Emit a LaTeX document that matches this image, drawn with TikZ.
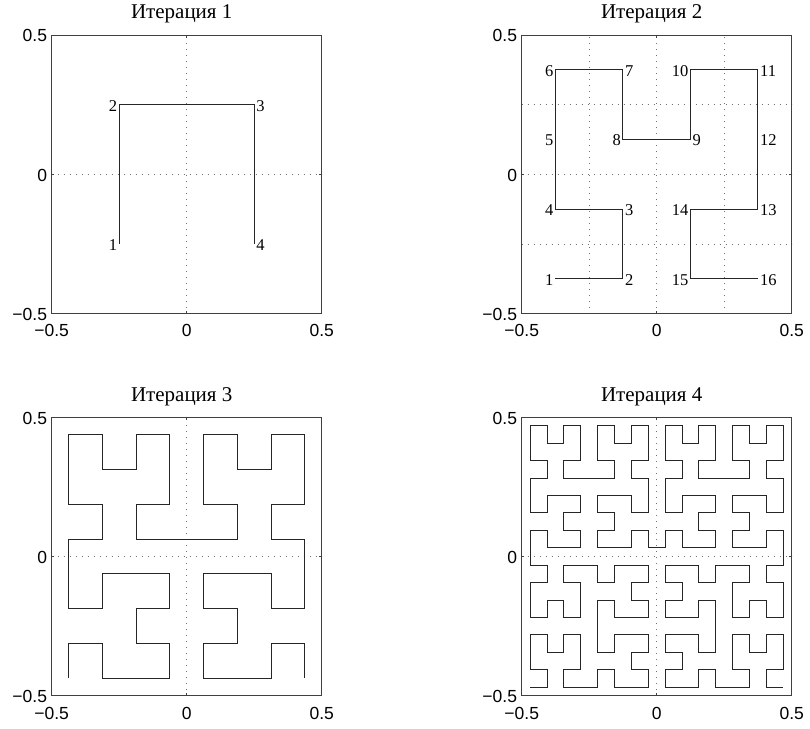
\documentclass[tikz,border=0pt]{standalone}
\usepackage{fontspec}
\setmainfont{Liberation Serif}
\newfontfamily\tickfont{Liberation Sans}
\newcount\hilx \newcount\hily \newcount\hildx \newcount\hildy \newcount\hiltmp
\def\hilLeft{\hiltmp=\hildx \hildx=-\hildy \hildy=\hiltmp\relax}
\def\hilRight{\hiltmp=\hildx \hildx=\hildy \hildy=-\hiltmp\relax}
\def\hilFwd{\advance\hilx by\hildx \advance\hily by\hildy
  \pgfpathlineto{\pgfpointxy{\the\hilx}{\the\hily}}}
\def\hilA#1{\ifnum#1>0 \expandafter\hilAx\expandafter{\the\numexpr#1-1\relax}\fi}
\def\hilB#1{\ifnum#1>0 \expandafter\hilBx\expandafter{\the\numexpr#1-1\relax}\fi}
\def\hilAx#1{\hilLeft\hilB{#1}\hilFwd\hilRight\hilA{#1}\hilFwd\hilA{#1}\hilRight\hilFwd\hilB{#1}\hilLeft}
\def\hilBx#1{\hilRight\hilA{#1}\hilFwd\hilLeft\hilB{#1}\hilFwd\hilB{#1}\hilLeft\hilFwd\hilA{#1}\hilRight}
\newcommand\hilcurve[1]{%
  \hilx=0 \hily=0 \hildx=1 \hildy=0
  \pgfsetlinewidth{1pt}%
  \pgfsetstrokecolor{black!85}%
  \pgfpathmoveto{\pgfpointxy{0}{0}}%
  \hilA{#1}%
  \pgfusepath{stroke}}
\tikzset{
  gridl/.style={draw=black!55, line width=0.7pt, dash pattern=on 0.7pt off 5.3pt},
  boxl/.style={draw=black!75, line width=0.9pt},
  ytick/.style={font=\tickfont\fontsize{17.5}{17.5}\selectfont, anchor=base east, inner sep=0pt, xshift=-4.5pt, yshift=-7pt},
  xtick/.style={font=\tickfont\fontsize{17.5}{17.5}\selectfont, anchor=base, inner sep=0pt, yshift=-23.5pt},
  ttl/.style={font=\fontsize{21}{21}\selectfont, anchor=base, inner sep=0pt, xshift=-5pt, yshift=16pt},
  lblL/.style={font=\fontsize{16.5}{16.5}\selectfont, anchor=base east, inner sep=0pt, xshift=-2pt, yshift=-6.5pt},
  lblR/.style={font=\fontsize{16.5}{16.5}\selectfont, anchor=base west, inner sep=0pt, xshift=2pt, yshift=-6.5pt}
}
\newcommand\panel[5]{% #1 cx, #2 cy, #3 order, #4 N, #5 extra
\begin{scope}[shift={(#1pt,#2pt)}, x=270pt, y=278.5pt]
  \draw[gridl] (0,-0.5) -- (0,0.5);
  \draw[gridl] (-0.5,0) -- (0.5,0);
  #5
  \begin{scope}[shift={(-0.5+0.5/#4,-0.5+0.5/#4)}, x=270pt/#4, y=278.5pt/#4]
    \hilcurve{#3}
  \end{scope}
  \draw[boxl] (-0.5,-0.5) rectangle (0.5,0.5);
  \draw[boxl] (0,-0.5) -- ++(0,2.7pt);
  \draw[boxl] (0,0.5) -- ++(0,-2.7pt);
  \draw[boxl] (-0.5,0) -- ++(2.7pt,0);
  \draw[boxl] (0.5,0) -- ++(-2.7pt,0);
  \node[ytick] (p#3ya) at (-0.5,0.5) {0.5};
  \node[ytick] (p#3yb) at (-0.5,0) {0};
  \node[ytick] (p#3yc) at (-0.5,-0.5) {−0.5};
  \node[xtick] (p#3xa) at (-0.5,-0.5) {−0.5};
  \node[xtick] (p#3xb) at (0,-0.5) {0};
  \node[xtick] (p#3xc) at (0.5,-0.5) {0.5};
  \node[ttl] (p#3t) at (0,0.5) {Итерация #3};
\end{scope}}
\begin{document}
\begin{tikzpicture}
\useasboundingbox (0pt,0pt) rectangle (810pt,728pt);
\panel{186.7}{553.75}{1}{2}{%
  \node[lblL] (a1) at (-0.25,-0.25) {1};
  \node[lblL] (a2) at (-0.25,0.25) {2};
  \node[lblR] (a3) at (0.25,0.25) {3};
  \node[lblR] (a4) at (0.25,-0.25) {4};}
\panel{656.7}{553.75}{2}{4}{%
  \draw[gridl] (-0.25,-0.5) -- (-0.25,0.5);
  \draw[gridl] (0.25,-0.5) -- (0.25,0.5);
  \draw[gridl] (-0.5,-0.25) -- (0.5,-0.25);
  \draw[gridl] (-0.5,0.25) -- (0.5,0.25);
  \node[lblL] (b1) at (-0.375,-0.375) {1};
  \node[lblR] (b2) at (-0.125,-0.375) {2};
  \node[lblR] (b3) at (-0.125,-0.125) {3};
  \node[lblL] (b4) at (-0.375,-0.125) {4};
  \node[lblL] (b5) at (-0.375,0.125) {5};
  \node[lblL] (b6) at (-0.375,0.375) {6};
  \node[lblR] (b7) at (-0.125,0.375) {7};
  \node[lblL] (b8) at (-0.125,0.125) {8};
  \node[lblR] (b9) at (0.125,0.125) {9};
  \node[lblL] (b10) at (0.125,0.375) {10};
  \node[lblR] (b11) at (0.375,0.375) {11};
  \node[lblR] (b12) at (0.375,0.125) {12};
  \node[lblR] (b13) at (0.375,-0.125) {13};
  \node[lblL] (b14) at (0.125,-0.125) {14};
  \node[lblL] (b15) at (0.125,-0.375) {15};
  \node[lblR] (b16) at (0.375,-0.375) {16};}
\panel{186.7}{171.5}{3}{8}{}
\panel{656.7}{171.5}{4}{16}{}
\end{tikzpicture}
\end{document}
